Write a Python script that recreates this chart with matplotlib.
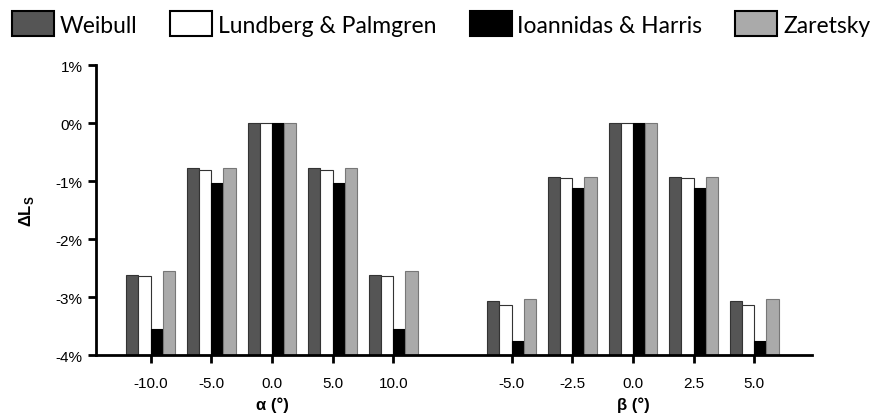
import numpy as np
import matplotlib
matplotlib.use("Agg")
import matplotlib.pyplot as plt
from matplotlib.ticker import FuncFormatter

plt.rcParams['font.family'] = ['Liberation Sans', 'DejaVu Sans']

# data (percent change of life)
alpha_labels = ['-10.0', '-5.0', '0.0', '5.0', '10.0']
beta_labels = ['-5.0', '-2.5', '0.0', '2.5', '5.0']
series = ['Weibull', 'Lundberg & Palmgren', 'Ioannidas & Harris', 'Zaretsky']
weibull = [-2.62, -0.78, 0.0, -0.78, -2.62, -3.07, -0.93, 0.0, -0.93, -3.07]
lundberg = [-2.64, -0.80, 0.0, -0.80, -2.64, -3.14, -0.95, 0.0, -0.95, -3.14]
ioannidas = [-3.55, -1.03, 0.0, -1.03, -3.55, -3.76, -1.11, 0.0, -1.11, -3.76]
zaretsky = [-2.55, -0.78, 0.0, -0.78, -2.55, -3.04, -0.93, 0.0, -0.93, -3.04]

faces = ['#555555', '#ffffff', '#000000', '#aaaaaa']
edges = ['#333333', '#333333', '#000000', '#777777']

fig = plt.figure(figsize=(8.73, 4.14), dpi=100)
ax = fig.add_axes([0.11, 0.14, 0.82, 0.70])

pos = np.array([0, 1, 2, 3, 4, 5.95, 6.95, 7.95, 8.95, 9.95])
w = 0.2
base = -4.0
for i, (name, vals) in enumerate(zip(series, [weibull, lundberg, ioannidas, zaretsky])):
    v = np.array(vals)
    ax.bar(pos + (i - 1.5) * w, v - base, w, bottom=base, color=faces[i],
           edgecolor=edges[i], linewidth=0.8, label=name)

ax.set_ylim(-4, 1)
ax.set_xlim(-0.9, 10.9)
ax.set_yticks([1, 0, -1, -2, -3, -4])
ax.yaxis.set_major_formatter(FuncFormatter(lambda v, p: '%d%%' % v))
ax.set_xticks(pos)
ax.set_xticklabels(alpha_labels + beta_labels)
ax.tick_params(axis='both', labelsize=11, width=2, length=6, colors='black')
ax.tick_params(axis='x', pad=9)
for s in ['top', 'right']:
    ax.spines[s].set_visible(False)
for s in ['left', 'bottom']:
    ax.spines[s].set_linewidth(2)

ax.set_ylabel('ΔL$_\\mathregular{S}$', fontsize=12, fontweight='bold', labelpad=14)
ax.text(2, -0.17, 'α (°)', transform=ax.get_xaxis_transform(), ha='center',
        va='center', fontsize=12, fontweight='bold')
ax.text(7.95, -0.17, 'β (°)', transform=ax.get_xaxis_transform(), ha='center',
        va='center', fontsize=12, fontweight='bold')

fig.legend(loc='upper left', bbox_to_anchor=(0.0137, 0.97, 0.983, 0.0), mode='expand',
           ncol=4, frameon=False, handlelength=1.83, handleheight=1.3,
           handletextpad=0.25, borderaxespad=0, borderpad=0,
           prop={'family': 'Lato', 'size': 16.5})
for h in fig.legends[0].legend_handles:
    h.set_edgecolor('black')
    h.set_linewidth(1.5)

fig.savefig('out.png', dpi=100)
